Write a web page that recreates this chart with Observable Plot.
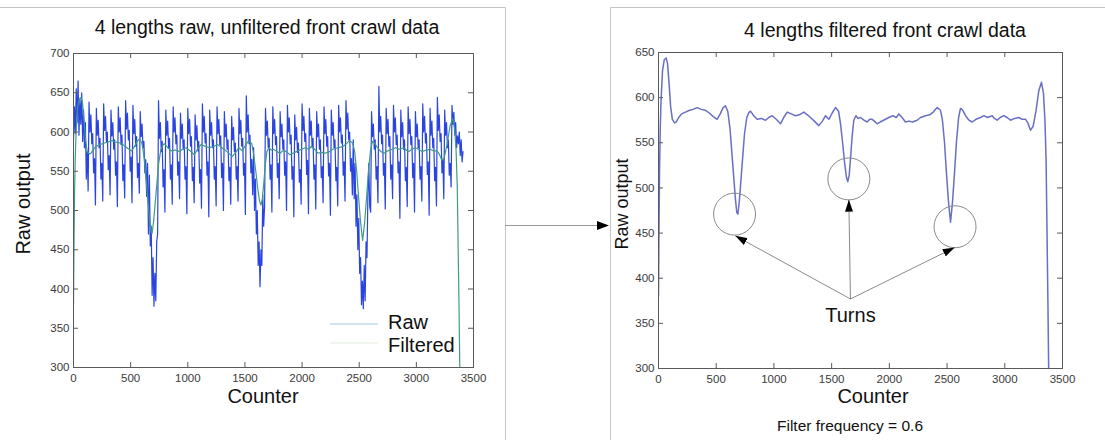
<!DOCTYPE html>
<html>
<head>
<meta charset="utf-8">
<script src="https://cdn.jsdelivr.net/npm/d3@7"></script>
<script src="https://cdn.jsdelivr.net/npm/@observablehq/plot@0.6"></script>
<style>
  html, body { margin: 0; padding: 0; background: #fff; overflow: hidden; }
  #root { position: relative; width: 1105px; height: 440px; font-family: "Liberation Sans", Arial, sans-serif; }
  .panel { position: absolute; top: 0; }
  #overlay { position: absolute; left: 0; top: 0; pointer-events: none; }
</style>
</head>
<body>
<div id="root">
  <div id="left" class="panel" style="left:0px;width:505px;height:440px"></div>
  <div id="right" class="panel" style="left:610px;width:495px;height:440px"></div>
  <svg id="overlay" width="1105" height="440" font-family="Liberation Sans, Arial, sans-serif"></svg>
</div>
<script>
// ---------------- DATA ----------------
const leftTitle = "4 lengths raw, unfiltered front crawl data";
const rightTitle = "4 lengths filtered front crawl data";
const xLabel = "Counter";
const yLabel = "Raw output";
const legendLabels = ["Raw", "Filtered"];
const footnote = "Filter frequency = 0.6";
const turnsText = "Turns";

const xTicks = [0, 500, 1000, 1500, 2000, 2500, 3000, 3500];
const yTicksLeft = [300, 350, 400, 450, 500, 550, 600, 650, 700];
const yTicksRight = [300, 350, 400, 450, 500, 550, 600, 650];

// raw sensor output, one reading every 8 counts
const rawStep = 8;
const rawOutput = [
  // push-off
  590, 632, 598, 655, 612, 665, 596, 642, 610, 650, 588, 628, 580, 612, 540, 575,
  // length 1
  525, 638, 600, 622, 585, 598, 548, 566,
  507, 630, 596, 615, 580, 592, 540, 560,
  512, 636, 602, 620, 588, 600, 552, 570,
  520, 628, 595, 612, 578, 590, 545, 562,
  505, 632, 600, 618, 584, 596, 538, 558,
  516, 640, 604, 624, 590, 602, 550, 568,
  510, 634, 598, 616, 582, 594, 542, 560,
  522, 626, 594, 610, 580, 588, 548, 565,
  // turn 1
  518, 560, 470, 545, 455, 480, 392, 440, 378, 420, 385, 460,
  // length 2
  470, 640, 592, 612, 575, 588, 530, 552,
  498, 628, 596, 614, 580, 592, 540, 558,
  508, 632, 600, 618, 585, 596, 545, 562,
  515, 624, 592, 610, 578, 590, 540, 556,
  496, 630, 598, 616, 582, 594, 538, 555,
  510, 622, 590, 608, 576, 588, 535, 552,
  503, 636, 600, 620, 586, 598, 545, 562,
  492, 628, 596, 612, 580, 590, 540, 556,
  506, 632, 598, 616, 584, 595, 542, 560,
  500, 626, 594, 610, 578, 590, 538, 555,
  508, 620, 590, 606, 575, 586, 540, 556,
  512, 630, 598, 615, 582, 592, 545, 560,
  495, 646, 600, 622, 585, 596, 548, 565,
  // turn 2
  520, 580, 500, 540, 470, 500, 430, 460, 403, 450, 430, 520, 480,
  // length 3
  505, 630, 596, 614, 580, 592, 540, 558,
  498, 632, 598, 616, 584, 594, 542, 560,
  515, 626, 594, 610, 578, 590, 545, 562,
  500, 634, 600, 618, 585, 596, 540, 556,
  492, 622, 590, 606, 574, 586, 536, 552,
  508, 636, 602, 620, 588, 598, 546, 564,
  496, 630, 596, 614, 580, 592, 540, 558,
  502, 626, 594, 610, 578, 590, 542, 556,
  510, 632, 598, 616, 582, 594, 544, 560,
  494, 628, 596, 612, 580, 590, 538, 555,
  506, 634, 600, 618, 586, 596, 545, 562,
  512, 640, 604, 624, 590, 600, 550, 566,
  // turn 3
  520, 590, 515, 560, 480, 520, 450, 490, 420, 440, 380, 410, 375, 430, 385, 460, 440, 520, 560, 505,
  // length 4
  498, 626, 594, 610, 578, 590, 540, 556,
  510, 658, 600, 620, 585, 596, 545, 560,
  502, 630, 598, 616, 582, 594, 540, 558,
  515, 634, 600, 618, 584, 596, 548, 562,
  490, 628, 594, 612, 578, 590, 538, 555,
  505, 632, 598, 616, 584, 594, 542, 560,
  498, 626, 594, 610, 580, 590, 540, 556,
  512, 636, 600, 620, 586, 598, 546, 562,
  494, 630, 596, 614, 580, 592, 538, 555,
  506, 644, 602, 622, 588, 598, 548, 565,
  515, 628, 596, 612, 580, 590, 545, 560,
  530, 634, 610, 625, 596, 612, 580, 595,
  // finish
  585, 600, 570, 590, 562, 575
];

const filteredCounter = [
  0, 4, 9, 15, 22, 35, 50, 66, 78, 92, 105, 120, 140, 153, 175, 200, 234, 270, 300, 335,
  370, 407, 440, 475, 508, 535, 560, 580, 600, 620, 635, 650, 665, 678, 688, 700, 715, 730, 745, 765,
  785, 797, 825, 855, 890, 927, 955, 985, 1020, 1057, 1085, 1115, 1150, 1187, 1220, 1259, 1290, 1317, 1350, 1389,
  1420, 1447, 1476, 1505, 1533, 1560, 1577, 1595, 1612, 1628, 1640, 1652, 1665, 1678, 1692, 1710, 1730, 1750, 1780, 1808,
  1830, 1851, 1870, 1894, 1920, 1950, 1995, 2030, 2060, 2082, 2110, 2140, 2170, 2200, 2241, 2270, 2313, 2350, 2380, 2414,
  2443, 2460, 2478, 2495, 2512, 2530, 2547, 2564, 2582, 2600, 2616, 2631, 2660, 2690, 2718, 2750, 2790, 2819, 2850, 2891,
  2910, 2934, 2960, 2992, 3020, 3050, 3085, 3122, 3150, 3180, 3200, 3223, 3245, 3270, 3295, 3318, 3335, 3348, 3358, 3366,
  3374, 3380
];
const filteredValue = [
  380, 450, 519, 565, 597, 630, 642, 644, 638, 615, 590, 576, 572, 573, 578, 582, 584, 586, 587, 589,
  587, 586, 583, 579, 576, 582, 589, 591, 585, 565, 540, 515, 490, 473, 471, 485, 510, 535, 560, 578,
  584, 585, 580, 576, 577, 575, 578, 580, 576, 571, 578, 584, 582, 580, 581, 584, 581, 578, 574, 569,
  574, 580, 576, 583, 589, 585, 571, 550, 528, 512, 507, 514, 535, 558, 575, 580, 577, 578, 575, 573,
  576, 576, 574, 571, 573, 575, 578, 580, 578, 582, 578, 573, 574, 573, 575, 578, 580, 581, 584, 589,
  586, 575, 550, 516, 485, 462, 484, 516, 552, 578, 588, 587, 580, 575, 573, 576, 578, 580, 578, 580,
  577, 575, 578, 580, 578, 575, 577, 578, 576, 576, 572, 564, 568, 585, 608, 617, 605, 575, 530, 450,
  370, 300
];

// "Turns" annotation
const turnCircleCounter = [659, 1649, 2569];
const turnCircleValue = [471, 510, 457];
const arrowTipCounter = [665, 1649, 2566];
const arrowTipValue = [447, 487, 434];
const arrowOrigin = [1663, 377];
const turnsLabelPos = [1663, 359];

// ---------------- BUILD ----------------
const raw = rawOutput.map((v, i) => ({c: i * rawStep, v}));
const filtered = filteredCounter.map((c, i) => ({c, v: filteredValue[i]}));
const circles = turnCircleCounter.map((c, i) => ({c, v: turnCircleValue[i]}));
const arrows = arrowTipCounter.map((c, i) => ({x1: arrowOrigin[0], y1: arrowOrigin[1], x2: c, y2: arrowTipValue[i]}));

const FONT = "Liberation Sans, Arial, sans-serif";
const frameColor = "#5a5a5a";

function boxTicks(yTicks, plotW, plotH) {
  return [
    Plot.tickX(xTicks, {x: d => d, insetTop: plotH - 5, stroke: frameColor}),
    Plot.tickX(xTicks, {x: d => d, insetBottom: plotH - 5, stroke: frameColor}),
    Plot.tickY(yTicks, {y: d => d, insetRight: plotW - 5, stroke: frameColor}),
    Plot.tickY(yTicks, {y: d => d, insetLeft: plotW - 5, stroke: frameColor}),
    Plot.frame({stroke: frameColor})
  ];
}

const styleObj = {fontFamily: FONT, fontSize: "11.5px", color: "#3a3a3a", background: "transparent", overflow: "visible"};

const leftPlot = Plot.plot({
  width: 505, height: 440,
  marginLeft: 73, marginRight: 32, marginTop: 53, marginBottom: 73,
  x: {domain: [0, 3500]},
  y: {domain: [300, 700]},
  style: styleObj,
  marks: [
    Plot.axisX({ticks: xTicks, tickSize: 0, tickPadding: 6, tickFormat: "d", label: null, anchor: "bottom"}),
    Plot.axisY({ticks: yTicksLeft, tickSize: 0, tickPadding: 4, tickFormat: "d", label: null, anchor: "left"}),
    Plot.line(raw, {x: "c", y: "v", stroke: "#2a44e2", strokeWidth: 1.2, clip: true}),
    Plot.line(filtered, {x: "c", y: "v", stroke: "#3f9c82", strokeWidth: 1.2, clip: true}),
    ...boxTicks(yTicksLeft, 400, 314)
  ]
});
document.getElementById("left").appendChild(leftPlot);

const rightPlot = Plot.plot({
  width: 495, height: 440,
  marginLeft: 48, marginRight: 43, marginTop: 52, marginBottom: 72,
  x: {domain: [0, 3500]},
  y: {domain: [300, 650]},
  style: styleObj,
  marks: [
    Plot.axisX({ticks: xTicks, tickSize: 0, tickPadding: 6, tickFormat: "d", label: null, anchor: "bottom"}),
    Plot.axisY({ticks: yTicksRight, tickSize: 0, tickPadding: 4, tickFormat: "d", label: null, anchor: "left"}),
    Plot.line(filtered, {x: "c", y: "v", stroke: "#6a6ec4", strokeWidth: 1.5, clip: true}),
    Plot.dot(circles, {x: "c", y: "v", r: 21, stroke: "#8a8a8a", strokeWidth: 1, fill: "none"}),
    Plot.link(arrows, {x1: "x1", y1: "y1", x2: "x2", y2: "y2", stroke: "#8a8a8a", strokeWidth: 1}),
    Plot.text([turnsText], {x: turnsLabelPos[0], y: turnsLabelPos[1], text: d => d, fontSize: 20, fill: "#111", textAnchor: "middle", lineAnchor: "middle"}),
    ...boxTicks(yTicksRight, 404, 316)
  ]
});
document.getElementById("right").appendChild(rightPlot);

// filled arrow heads on the annotation links
const rs = d3.select(rightPlot);
rs.append("defs").append("marker")
  .attr("id", "ahead").attr("viewBox", "0 0 12 8").attr("refX", 12).attr("refY", 4)
  .attr("markerWidth", 12).attr("markerHeight", 8).attr("markerUnits", "userSpaceOnUse").attr("orient", "auto")
  .append("path").attr("d", "M0,0L12,4L0,8Z").attr("fill", "#000");
rs.selectAll('g[aria-label="link"] path').attr("marker-end", "url(#ahead)");

// ---------------- OVERLAY (titles, labels, legend, panel borders) ----------------
const ov = d3.select("#overlay");
const border = "#c4c4c4";
ov.append("path").attr("d", "M0,7.5H505.5V440").attr("fill", "none").attr("stroke", border);
ov.append("path").attr("d", "M1105,7.5H610.5V440").attr("fill", "none").attr("stroke", border);
// arrow between panels
ov.append("line").attr("x1", 505).attr("x2", 600).attr("y1", 225.5).attr("y2", 225.5).attr("stroke", "#999");
ov.append("path").attr("d", "M597,221L609,225.5L597,230Z").attr("fill", "#000");

function txt(x, y, s, size, anchor = "middle", rot = 0, fill = "#111") {
  const t = ov.append("text").attr("x", x).attr("y", y).attr("font-size", size)
    .attr("text-anchor", anchor).attr("fill", fill).text(s);
  if (rot) t.attr("transform", `rotate(${rot},${x},${y})`);
  return t;
}
txt(267, 34, leftTitle, 19.5);
txt(885, 37, rightTitle, 19.5);
txt(263, 403, xLabel, 20);
txt(873, 403, xLabel, 20);
txt(29.5, 204, yLabel, 20, "middle", -90);
txt(628, 204, yLabel, 18, "middle", -90);
txt(850, 431, footnote, 15.5);

// legend
ov.append("line").attr("x1", 330).attr("x2", 378).attr("y1", 324).attr("y2", 324).attr("stroke", "#a3c9e6").attr("stroke-width", 1.2);
ov.append("line").attr("x1", 330).attr("x2", 378).attr("y1", 343).attr("y2", 343).attr("stroke", "#e2eedc").attr("stroke-width", 1.2);
txt(388, 329, legendLabels[0], 20, "start");
txt(388, 352, legendLabels[1], 20, "start");
</script>
</body>
</html>
